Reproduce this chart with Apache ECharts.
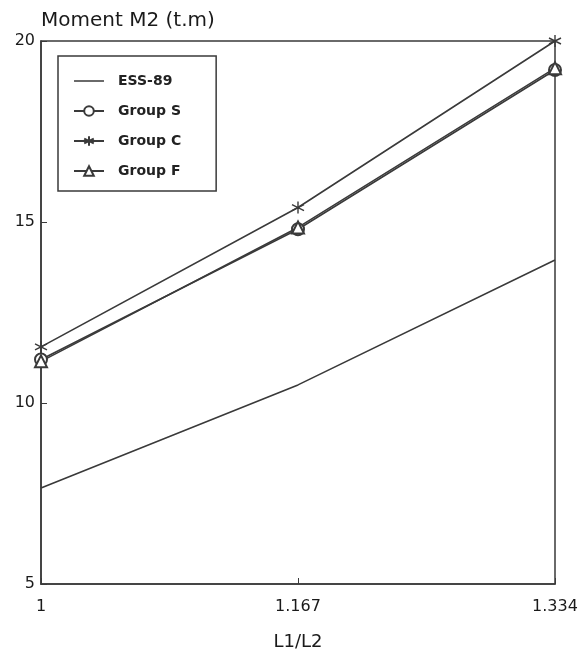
<!DOCTYPE html>
<html><head><meta charset="utf-8">
<script src="https://cdn.jsdelivr.net/npm/echarts@6/dist/echarts.min.js"></script>
<style>html,body{margin:0;padding:0;background:#fff}#c{width:581px;height:658px}</style>
</head><body><div id="c"></div>
<script>
var categories = ['1', '1.167', '1.334'];
var ess89  = [7.65, 10.5, 13.95];
var groupS = [11.2, 14.8, 19.2];
var groupC = [11.55, 15.4, 20.0];
var groupF = [11.15, 14.85, 19.25];
var yTicks = [5, 10, 15, 20];

var ink = '#3a3a3a';
var font = 'DejaVu Sans, sans-serif';
var star = 'path://M0,-10L0,10M-8.7,-5L8.7,5M-8.7,5L8.7,-5';
var plainLine = 'path://M0,0L0.01,0L0.01,0.01ZM0,5.2L30,5.2L30,6.8L0,6.8ZM0,12L0.01,12L0.01,12.01Z';

function mk(name, data, symbol, size) {
  return {
    name: name, type: 'line', data: data,
    symbol: symbol, symbolSize: size, showSymbol: symbol !== 'none',
    lineStyle: {color: ink, width: 1.6},
    itemStyle: {color: ink, borderColor: ink, borderWidth: 1.4},
    emphasis: {disabled: true}, z: 3
  };
}

var chart = echarts.init(document.getElementById('c'), null, {renderer: 'canvas'});
chart.setOption({
  animation: false,
  backgroundColor: '#fff',
  title: {text: 'Moment M2 (t.m)', left: 36, top: 6,
    textStyle: {fontFamily: font, fontSize: 20, fontWeight: 'normal', color: '#1a1a1a'}},
  grid: {left: 41, right: 26, top: 41, bottom: 74, show: true, borderColor: ink, borderWidth: 1.5, backgroundColor: 'transparent'},
  legend: {
    orient: 'vertical', left: 58, top: 56,
    padding: [18, 35, 13, 15], itemGap: 16, itemWidth: 30, itemHeight: 12,
    borderColor: ink, borderWidth: 1.5, backgroundColor: '#fff',
    textStyle: {fontFamily: font, fontSize: 14, fontWeight: 'bold', color: '#222', padding: [0, 0, 0, 9]},
    data: [{name: 'ESS-89', icon: plainLine, itemStyle: {color: ink, borderWidth: 0}}, 'Group S', 'Group C', 'Group F']
  },
  xAxis: {
    type: 'category', data: categories, boundaryGap: false,
    axisLine: {lineStyle: {color: ink, width: 1.5}},
    axisTick: {show: true, inside: true, length: 6, alignWithLabel: true, lineStyle: {color: ink}},
    axisLabel: {margin: 15, fontFamily: font, fontSize: 16, color: '#1a1a1a'},
    name: 'L1/L2', nameLocation: 'middle', nameGap: 49,
    nameTextStyle: {fontFamily: font, fontSize: 18, color: '#1a1a1a'},
    splitLine: {show: false}
  },
  yAxis: {
    type: 'value', min: 5, max: 20, interval: 5,
    axisLine: {show: true, lineStyle: {color: ink, width: 1.5}},
    axisTick: {show: true, inside: true, length: 6, lineStyle: {color: ink}},
    axisLabel: {margin: 6, fontFamily: font, fontSize: 16, color: '#1a1a1a',
      formatter: function (v) { return yTicks.indexOf(v) >= 0 ? String(v) : ''; }},
    splitLine: {show: false}
  },
  series: [
    mk('ESS-89', ess89, 'none', 0),
    mk('Group S', groupS, 'emptyCircle', 12),
    mk('Group C', groupC, star, 12),
    mk('Group F', groupF, 'emptyTriangle', 12)
  ]
});
</script>
</body></html>
